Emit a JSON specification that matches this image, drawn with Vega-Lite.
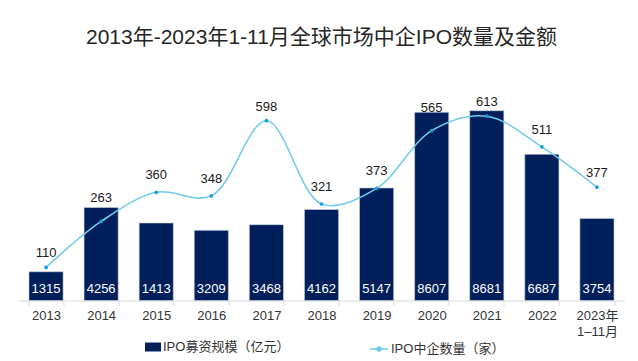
{
  "$schema": "https://vega.github.io/schema/vega-lite/v6.json",
  "autosize": {"type": "none"},
  "width": 606,
  "height": 240.5,
  "padding": {"left": 18.5, "top": 60, "right": 13.5, "bottom": 60.5},
  "background": "#ffffff",
  "title": {
    "text": "2013年-2023年1-11月全球市场中企IPO数量及金额",
    "fontSize": 21,
    "font": "Liberation Sans, Noto Sans CJK SC",
    "fontWeight": "normal",
    "color": "#262626",
    "anchor": "middle",
    "offset": 12
  },
  "config": {
    "view": {"stroke": null},
    "font": "Liberation Sans, Noto Sans CJK SC"
  },
  "data": {
    "values": [
      {"year": "2013", "amount": 1315, "amount_label": "1315", "count": 110},
      {"year": "2014", "amount": 4256, "amount_label": "4256", "count": 263},
      {"year": "2015", "amount": 3546, "amount_label": "1413", "count": 360},
      {"year": "2016", "amount": 3209, "amount_label": "3209", "count": 348},
      {"year": "2017", "amount": 3468, "amount_label": "3468", "count": 598},
      {"year": "2018", "amount": 4162, "amount_label": "4162", "count": 321},
      {"year": "2019", "amount": 5147, "amount_label": "5147", "count": 373},
      {"year": "2020", "amount": 8607, "amount_label": "8607", "count": 565},
      {"year": "2021", "amount": 8681, "amount_label": "8681", "count": 613},
      {"year": "2022", "amount": 6687, "amount_label": "6687", "count": 511},
      {"year": "2023年\n1–11月", "amount": 3754, "amount_label": "3754", "count": 377}
    ]
  },
  "encoding": {
    "x": {
      "field": "year",
      "type": "nominal",
      "sort": null,
      "scale": {"paddingInner": 0.38, "paddingOuter": 0.19},
      "axis": {
        "title": null,
        "labelAngle": 0,
        "labelExpr": "split(datum.label, '\\n')",
        "labelFontSize": 13,
        "labelColor": "#333333",
        "labelLineHeight": 16,
        "labelPadding": 4,
        "tickBand": "extent",
        "tickSize": 5,
        "tickColor": "#d9d9d9",
        "domainColor": "#d9d9d9",
        "labelBaseline": "top"
      }
    }
  },
  "layer": [
    {
      "layer": [
        {
          "mark": {"type": "bar", "color": "#001f5b", "stroke": "#cfd6e3", "strokeWidth": 0.6},
          "encoding": {
            "y": {"field": "amount", "type": "quantitative", "scale": {"domain": [0, 10726]}, "axis": null},
            "fill": {
              "datum": "IPO募资规模（亿元）",
              "scale": {"range": ["#001f5b"]},
              "legend": {
                "orient": "none",
                "legendX": 126.5,
                "legendY": 279,
                "title": null,
                "symbolType": "M-1,-0.56H1V0.56H-1Z",
                "symbolSize": 256,
                "symbolStrokeWidth": 0,
                "labelFontSize": 13,
                "labelColor": "#333333",
                "labelOffset": 2,
                "padding": 0
              }
            }
          }
        },
        {
          "mark": {"type": "text", "color": "#ffffff", "fontSize": 13, "dy": -12, "baseline": "middle"},
          "encoding": {
            "y": {"datum": 0, "type": "quantitative"},
            "text": {"field": "amount_label"}
          }
        }
      ]
    },
    {
      "layer": [
        {
          "mark": {"type": "line", "interpolate": "catmull-rom", "strokeWidth": 1.6, "color": "#72ccec"},
          "encoding": {
            "y": {"field": "count", "type": "quantitative", "scale": {"domain": [0, 751.6]}, "axis": null},
            "stroke": {
              "datum": "IPO中企数量（家）",
              "scale": {"range": ["#72ccec"]},
              "legend": {
                "orient": "none",
                "legendX": 350.5,
                "legendY": 279,
                "title": null,
                "symbolType": "M-1,0H1M-0.22,0A0.22,0.22 0 1,1 0.22,0A0.22,0.22 0 1,1 -0.22,0Z",
                "symbolSize": 324,
                "symbolStrokeWidth": 1.5,
                "symbolFillColor": "#1aa0d8",
                "labelFontSize": 13,
                "labelColor": "#333333",
                "labelOffset": 2,
                "padding": 0
              }
            }
          }
        },
        {
          "mark": {"type": "point", "filled": true, "size": 14, "color": "#1aa0d8", "opacity": 1},
          "encoding": {
            "y": {"field": "count", "type": "quantitative"}
          }
        },
        {
          "mark": {
            "type": "text",
            "color": "#1a1a1a",
            "fontSize": 13,
            "baseline": "middle",
            "dy": {"expr": "datum.year == '2014' || datum.year == '2020' ? -23 : (datum.year == '2013' || datum.year == '2017' || datum.year == '2021' || datum.year == '2023年\\n1–11月' ? -14 : -17)"}
          },
          "encoding": {
            "y": {"field": "count", "type": "quantitative"},
            "text": {"field": "count"}
          }
        }
      ]
    }
  ],
  "resolve": {"scale": {"y": "independent", "fill": "independent", "stroke": "independent"}}
}
